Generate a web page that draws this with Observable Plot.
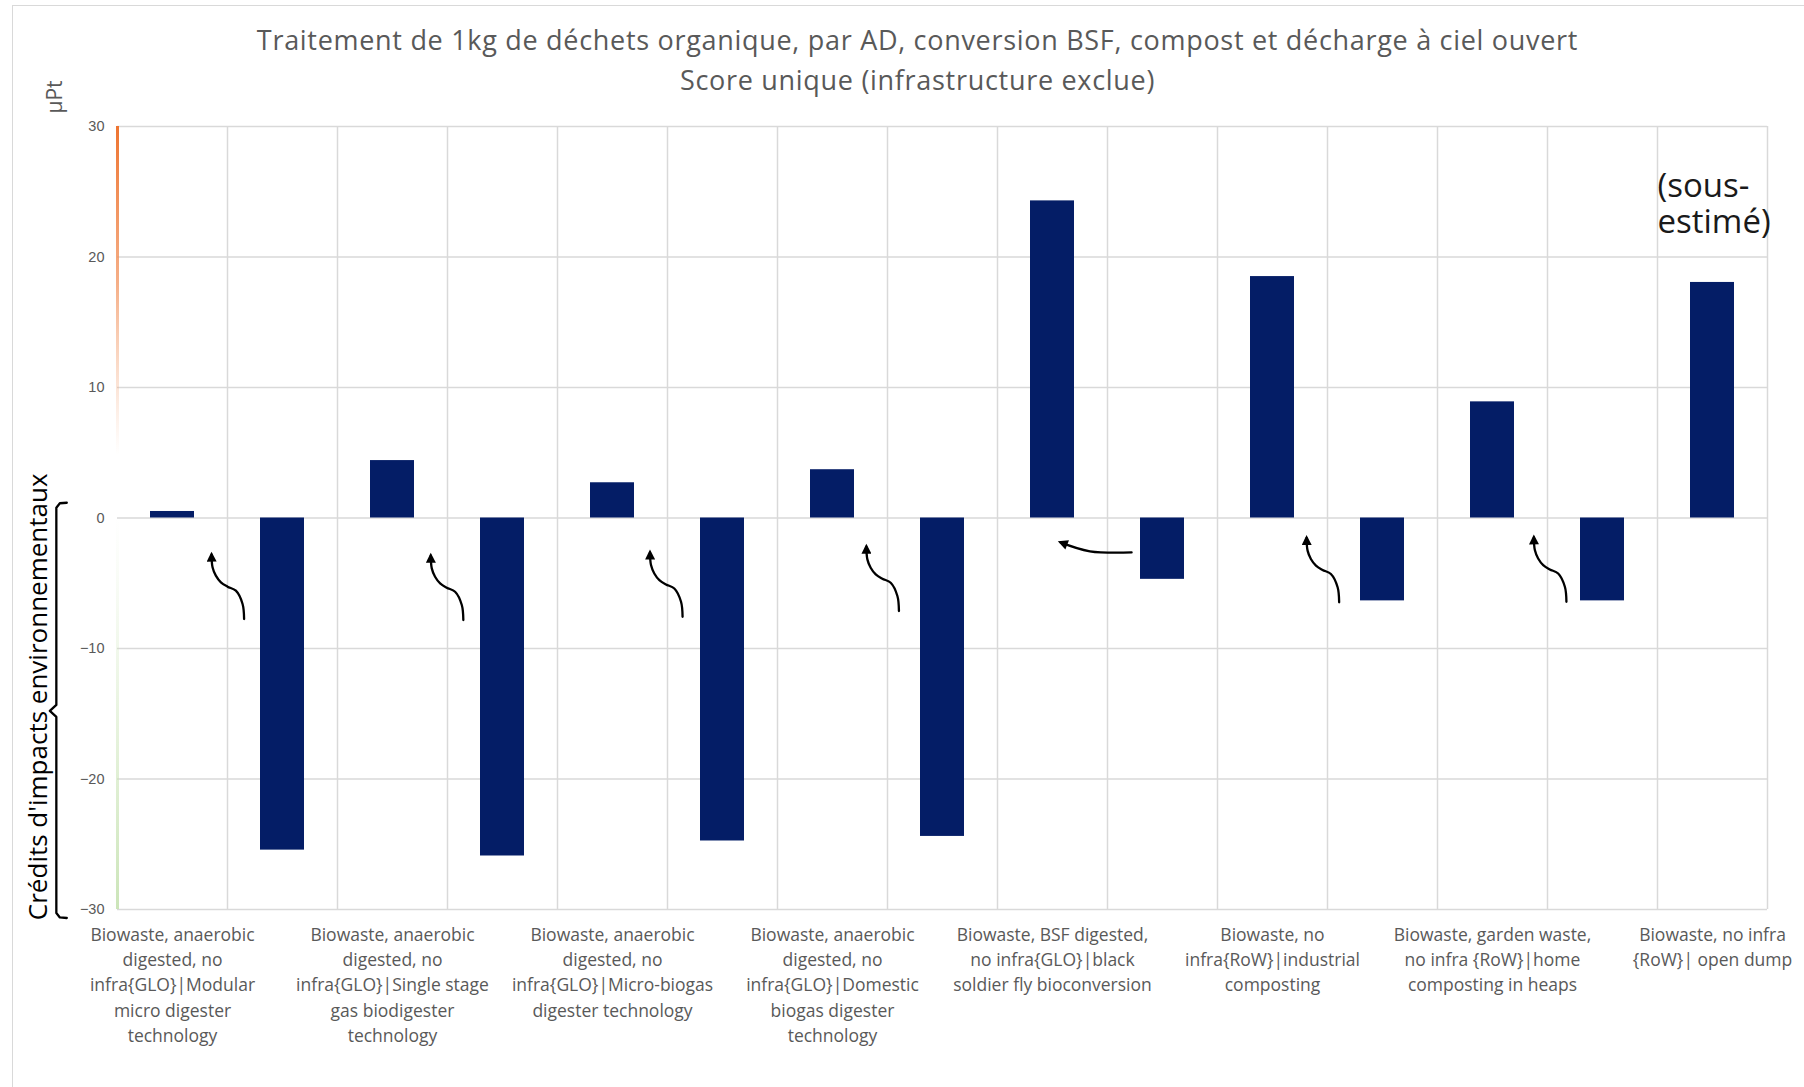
<!DOCTYPE html>
<html>
<head>
<meta charset="utf-8">
<script src="https://cdn.jsdelivr.net/npm/d3@7"></script>
<script src="https://cdn.jsdelivr.net/npm/@observablehq/plot@0.6"></script>
<style>
  body { margin: 0; background: #fff; }
  #wrap { position: relative; width: 1804px; height: 1087px; overflow: hidden; background: #fff; }
  #border { position: absolute; left: 12px; top: 5px; width: 1800px; height: 1100px;
            border-left: 1.5px solid #d9d9d9; border-top: 1.5px solid #d9d9d9; pointer-events: none; }
  #titles { position: relative; height: 100px; }
  .t { position: absolute; left: 0; width: 1835px; text-align: center; font-family: "Open Sans", sans-serif;
       color: #595959; font-size: 27px; line-height: 27px; letter-spacing: 0.7px; white-space: nowrap; }
  #unit { position: absolute; left: 54px; top: 97px; transform: translate(-50%, -50%) rotate(-90deg);
          font-family: "Open Sans", sans-serif; font-size: 21px; color: #595959; white-space: nowrap; }
  #chart { position: relative; }
</style>
</head>
<body>
<div id="wrap">
  <div id="border"></div>
  <div id="titles">
    <div class="t" id="t1" style="top:26px">Traitement de 1kg de déchets organique, par AD, conversion BSF, compost et décharge à ciel ouvert</div>
    <div class="t" id="t2" style="top:66px">Score unique (infrastructure exclue)</div>
    <div id="unit">µPt</div>
  </div>
  <div id="chart"></div>
</div>
<script>
// ---- data ----
const categories = [
  "Biowaste, anaerobic\ndigested, no\ninfra{GLO}|Modular\nmicro digester\ntechnology",
  "Biowaste, anaerobic\ndigested, no\ninfra{GLO}|Single stage\ngas biodigester\ntechnology",
  "Biowaste, anaerobic\ndigested, no\ninfra{GLO}|Micro-biogas\ndigester technology",
  "Biowaste, anaerobic\ndigested, no\ninfra{GLO}|Domestic\nbiogas digester\ntechnology",
  "Biowaste, BSF digested,\nno infra{GLO}|black\nsoldier fly bioconversion",
  "Biowaste, no\ninfra{RoW}|industrial\ncomposting",
  "Biowaste, garden waste,\nno infra {RoW}|home\ncomposting in heaps",
  "Biowaste, no infra\n{RoW}| open dump"
];
const impacts = [0.5, 4.4, 2.7, 3.7, 24.3, 18.5, 8.9, 18.05];
const credits = [-25.45, -25.9, -24.75, -24.4, -4.7, -6.35, -6.35, null];
const yTicks = [-30, -20, -10, 0, 10, 20, 30];

// annotations (data coordinates: x in column units, y in µPt)
const creditsLabel = "Crédits d'impacts environnementaux";
const underestimatedLabel = "(sous-\nestimé)";
// tips of the curved arrows pointing from each credit bar back to its process
const creditArrowTips = [
  {x: 0.855, y: -2.81}, {x: 2.848, y: -2.89}, {x: 4.841, y: -2.64},
  {x: 6.808, y: -2.20}, {x: 10.810, y: -1.53}, {x: 12.876, y: -1.49}
];
// shape of one curved arrow, tail to tip, relative to the tip
const arrowShape = [
  {dx: 0.296, dy: -4.93}, {dx: 0.282, dy: -3.78}, {dx: 0.221, dy: -2.76},
  {dx: 0.145, dy: -2.45}, {dx: 0.085, dy: -2.12}, {dx: 0.039, dy: -1.61},
  {dx: 0.009, dy: -0.97}, {dx: 0, dy: 0}
];
const bsfArrowPath = [
  {x: 9.219, y: -2.64}, {x: 8.84, y: -2.55}, {x: 8.574, y: -1.87}
];
const braceAnnotation = [
  {x: -0.461, y: 1.17}, {x: -0.524, y: 1.13}, {x: -0.556, y: 0.79},
  {x: -0.556, y: -14.32}, {x: -0.615, y: -14.78}, {x: -0.556, y: -15.24},
  {x: -0.556, y: -30.27}, {x: -0.524, y: -30.61}, {x: -0.461, y: -30.65}
];

// ---- tables ----
const rows = categories.flatMap((name, i) => [
  {name, col: 2 * i, value: impacts[i]},
  {name, col: 2 * i + 1, value: credits[i]}
]).filter(d => d.value != null);
const nCols = 2 * categories.length - 1;
const arrowPoints = creditArrowTips.flatMap((t, k) =>
  arrowShape.map(o => ({arrow: k, x: t.x + o.dx, y: t.y + o.dy})));

const navy = "#041D66";
const grid = "#D9D9D9";

const plot = Plot.plot({
  width: 1804,
  height: 987,
  marginTop: 26,
  marginBottom: 178,
  marginLeft: 117,
  marginRight: 37,
  style: {fontFamily: "'Liberation Sans', Arial, sans-serif", fontSize: "14.5px", color: "#595959", background: "transparent", overflow: "visible"},
  x: {domain: [0, nCols]},
  y: {domain: [-30, 30]},
  marks: [
    Plot.ruleY(yTicks, {stroke: grid, strokeWidth: 1.5}),
    Plot.ruleX(d3.range(1, nCols + 1), {stroke: grid, strokeWidth: 1.5}),
    Plot.ruleX([0], {y1: -30, y2: 30, stroke: "url(#axisGrad)", strokeWidth: 3}),
    Plot.rectY(rows, {x1: d => d.col + 0.3, x2: d => d.col + 0.7, y: "value", fill: navy}),
    Plot.axisY({ticks: yTicks, tickSize: 0, tickPadding: 13, label: null, fontSize: 14.5}),
    Plot.axisX({
      ticks: categories.map((_, i) => 2 * i + 0.5),
      tickFormat: v => categories[Math.round((v - 0.5) / 2)],
      tickSize: 0, tickPadding: 13, lineHeight: 1.45, fontSize: 17.5,
      fontFamily: "'Open Sans', sans-serif", label: null
    }),
    Plot.line(arrowPoints, {x: "x", y: "y", z: "arrow", curve: "catmull-rom", markerEnd: "arrow",
      stroke: "#000", strokeWidth: 2.3, strokeLinecap: "round"}),
    Plot.line(bsfArrowPath, {x: "x", y: "y", curve: "catmull-rom", markerEnd: "arrow",
      stroke: "#000", strokeWidth: 2.3, strokeLinecap: "round"}),
    Plot.line(braceAnnotation, {x: "x", y: "y", stroke: "#000", strokeWidth: 2.3}),
    Plot.text([creditsLabel], {x: -0.716, y: -13.7, rotate: -90, fontSize: 26,
      fontFamily: "'Open Sans', sans-serif", fill: "#000"}),
    Plot.text([underestimatedLabel], {x: 14, y: 26.6, textAnchor: "start", lineAnchor: "top",
      lineHeight: 1.1, fontSize: 33, fontFamily: "'Open Sans', sans-serif", fill: "#1a1a1a"})
  ]
});

// defs: gradient for the left axis line and filled arrowheads
const NS = "http://www.w3.org/2000/svg";
const y = plot.scale("y");
const defs = document.createElementNS(NS, "defs");
const lg = document.createElementNS(NS, "linearGradient");
lg.setAttribute("id", "axisGrad");
lg.setAttribute("gradientUnits", "userSpaceOnUse");
lg.setAttribute("x1", 0); lg.setAttribute("x2", 0);
lg.setAttribute("y1", y.apply(30)); lg.setAttribute("y2", y.apply(-30));
[[0, "#EE7430", 1], [0.2, "#F39A68", 0.8], [0.42, "#F7B690", 0], [0.5, "#D5EAC4", 0], [1, "#C6E2B1", 0.9]]
  .forEach(([o, c, op]) => {
    const s = document.createElementNS(NS, "stop");
    s.setAttribute("offset", o); s.setAttribute("stop-color", c); s.setAttribute("stop-opacity", op);
    lg.appendChild(s);
  });
defs.appendChild(lg);
const mk = document.createElementNS(NS, "marker");
mk.setAttribute("id", "arrowHead");
mk.setAttribute("viewBox", "0 0 10 10");
mk.setAttribute("refX", 7); mk.setAttribute("refY", 5);
mk.setAttribute("markerWidth", 11); mk.setAttribute("markerHeight", 10);
mk.setAttribute("markerUnits", "userSpaceOnUse");
mk.setAttribute("orient", "auto");
const mp = document.createElementNS(NS, "path");
mp.setAttribute("d", "M0,0L10,5L0,10z");
mp.setAttribute("fill", "#000");
mk.appendChild(mp);
defs.appendChild(mk);
plot.insertBefore(defs, plot.firstChild);
plot.querySelectorAll("[marker-end]").forEach(p => p.setAttribute("marker-end", "url(#arrowHead)"));

document.getElementById("chart").appendChild(plot);
</script>
</body>
</html>
